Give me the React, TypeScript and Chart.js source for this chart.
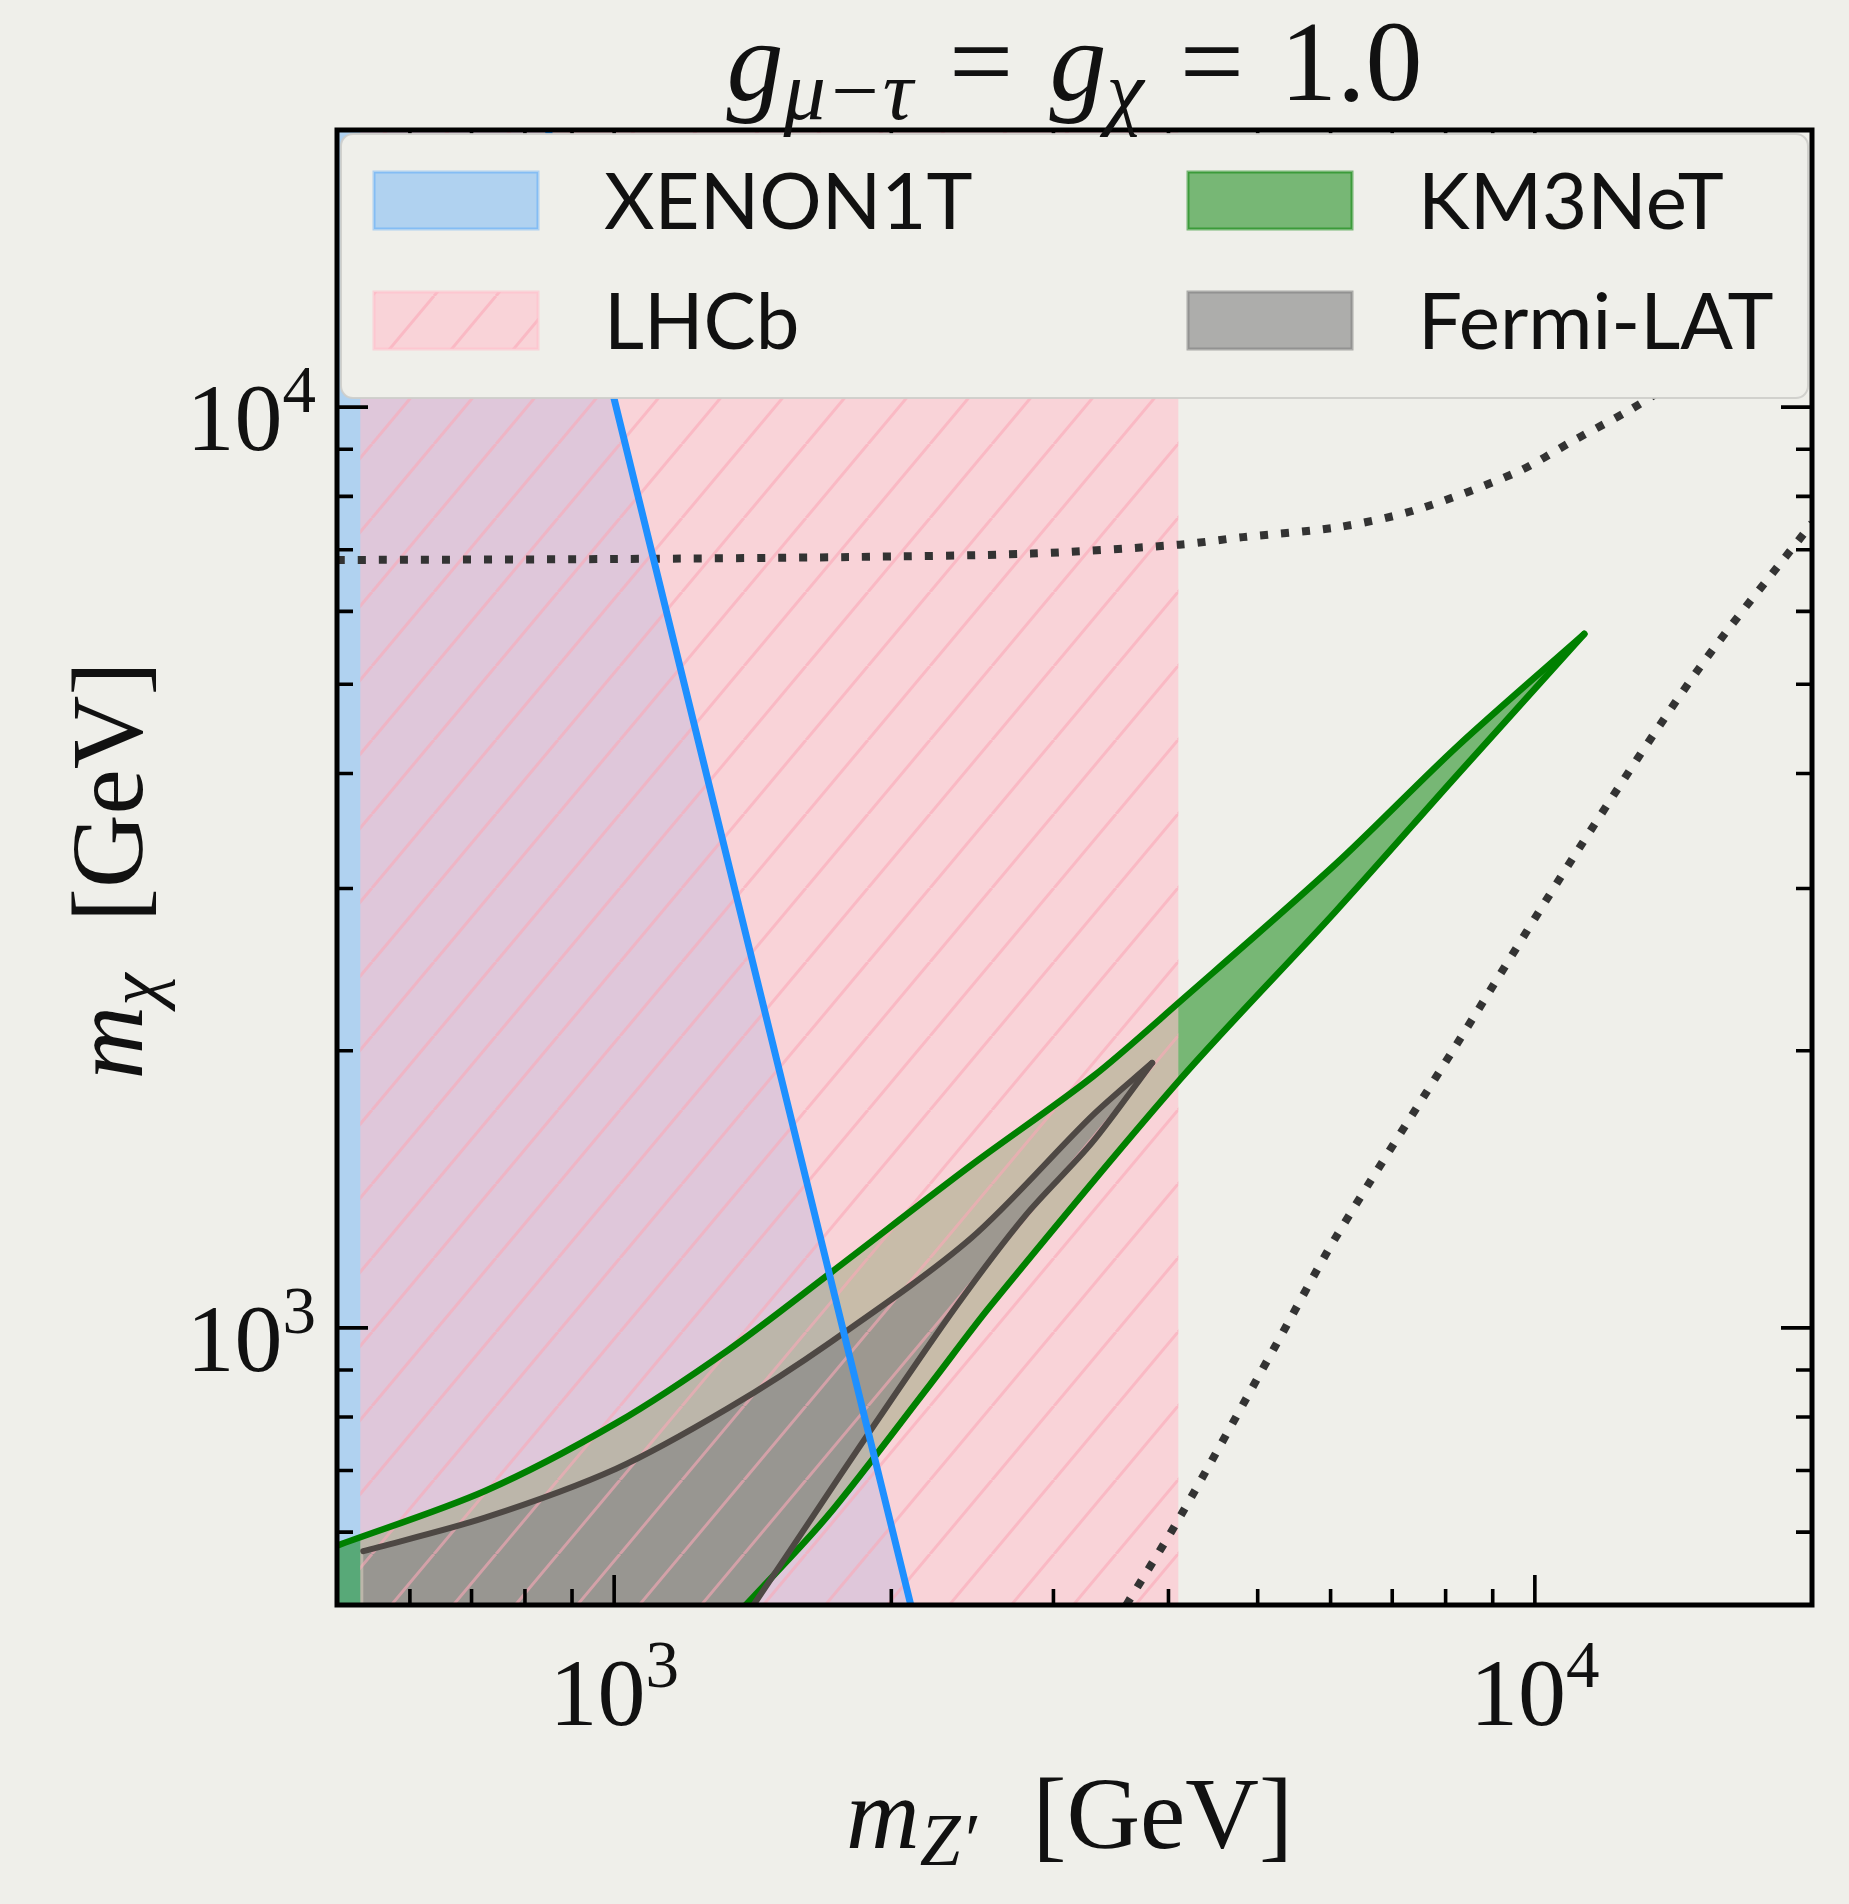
import React, { useEffect, useRef } from 'react';
import { Chart, registerables } from 'chart.js';

Chart.register(...registerables);

const CANVAS_W = 1849;
const CANVAS_H = 1904;
const BG = '#efefea';

// ---- axes ----
const X_MIN = 500;
const X_MAX = 20000;
const Y_MIN = 500;
const Y_MAX = 20000;

const xTickValues = [1000, 10000];
const xTickBase = ['10', '10'];
const xTickExp = ['3', '4'];
const yTickValues = [1000, 10000];
const yTickBase = ['10', '10'];
const yTickExp = ['3', '4'];

const legendLabels = ['XENON1T', 'LHCb', 'KM3NeT', 'Fermi-LAT'];

// ---- XENON1T boundary (excluded to the left) ----
const xenonX = [848, 1005, 2100];
const xenonY = [20000, 10000, 500];

// ---- LHCb band (m_Z' range) ----
const lhcbX = [530, 4100];

// ---- KM3NeT contour ----
const kmUpperX = [500, 724, 1005, 1330, 1721, 2441, 3307, 4116, 6070, 8227, 11315];
const kmUpperY = [580, 665, 788, 946, 1149, 1501, 1873, 2261, 3186, 4276, 5670];
const kmLowerX = [1390, 1704, 2202, 2570, 4116, 6070, 8227, 11315];
const kmLowerY = [500, 624, 867, 1060, 1860, 2830, 3980, 5670];

// ---- Fermi-LAT contour ----
const fermiUpperX = [534, 724, 1005, 1330, 1721, 2441, 3306, 3840];
const fermiUpperY = [572, 622, 703, 818, 966, 1251, 1700, 1940];
const fermiLowerX = [1417, 1635, 1891, 2360, 2798, 3306, 3840];
const fermiLowerY = [500, 619, 769, 1060, 1325, 1590, 1940];

// ---- dotted curves ----
const dot1X = [500, 1000, 1800, 2840, 4110, 4820, 6120, 7420, 9560, 11000, 12700, 14500];
const dot1Y = [6823, 6840, 6874, 6933, 7090, 7225, 7408, 7732, 8500, 9192, 9940, 10800];
const dot2X = [3600, 4116, 5215, 6070, 8227, 11143, 15097, 20000];
const dot2Y = [500, 623, 952, 1251, 2033, 3305, 5212, 7480];

// ---- colours ----
const XENON_FILL = 'rgba(30,144,255,0.3)';
const XENON_LINE = '#1e90ff';
const KM_FILL = 'rgba(0,128,0,0.5)';
const KM_LINE = '#008000';
const PINK_FACE = 'rgba(255,192,203,0.6)';
const PINK_HATCH = 'rgba(250,168,184,0.6)';
const FERMI_FILL = 'rgba(128,128,128,0.6)';
const FERMI_LINE = 'rgb(78,72,68)';
const DOT_COLOR = '#333333';

const SERIF = '"Liberation Serif", "DejaVu Serif", serif';
const SANS = 'Lato, "Noto Sans", "DejaVu Sans", sans-serif';

const pts = (xs: number[], ys: number[]) => xs.map((x, i) => ({ x, y: ys[i] }));

// "/" hatch lines only (transparent tile)
function makeHatch(ctx: CanvasRenderingContext2D): CanvasPattern | string {
  const w = 62;
  const h = 74;
  const c = document.createElement('canvas');
  c.width = w;
  c.height = h;
  const g = c.getContext('2d');
  if (!g) return 'rgba(0,0,0,0)';
  g.strokeStyle = PINK_HATCH;
  g.lineWidth = 3;
  g.beginPath();
  for (const o of [-w, 0, w]) {
    g.moveTo(o, h);
    g.lineTo(o + w, 0);
  }
  g.stroke();
  return ctx.createPattern(c, 'repeat') || 'rgba(0,0,0,0)';
}

type Seg = { t?: string; it?: boolean; s?: number; dy?: number; sp?: number };

function segFont(seg: Seg, size: number) {
  return `${seg.it ? 'italic ' : ''}${(size * (seg.s ?? 1)).toFixed(1)}px ${SERIF}`;
}

function segWidth(ctx: CanvasRenderingContext2D, seg: Seg, size: number, spExtra: number) {
  if (seg.sp !== undefined) return seg.sp * size + spExtra;
  ctx.font = segFont(seg, size);
  return ctx.measureText(seg.t || '').width;
}

function richWidth(ctx: CanvasRenderingContext2D, segs: Seg[], size: number, spExtra = 0) {
  return segs.reduce((a, s) => a + segWidth(ctx, s, size, spExtra), 0);
}

// extra spacing so that the text spans the target width
function spacingFor(ctx: CanvasRenderingContext2D, segs: Seg[], size: number, target: number) {
  const spSegs = segs.filter((s) => s.sp !== undefined);
  if (!spSegs.length) return 0;
  const w = richWidth(ctx, segs, size, 0);
  const minSp = Math.min(...spSegs.map((s) => s.sp as number));
  return Math.max(-(minSp - 0.08) * size, (target - w) / spSegs.length);
}

function drawRich(ctx: CanvasRenderingContext2D, segs: Seg[], x: number, y: number, size: number, spExtra = 0) {
  let cx = x;
  for (const seg of segs) {
    if (seg.sp !== undefined) {
      cx += seg.sp * size + spExtra;
      continue;
    }
    ctx.font = segFont(seg, size);
    ctx.fillText(seg.t || '', cx, y + (seg.dy ?? 0) * size);
    cx += ctx.measureText(seg.t || '').width;
  }
}

function roundRect(ctx: CanvasRenderingContext2D, x: number, y: number, w: number, h: number, r: number) {
  ctx.beginPath();
  ctx.moveTo(x + r, y);
  ctx.lineTo(x + w - r, y);
  ctx.arcTo(x + w, y, x + w, y + r, r);
  ctx.lineTo(x + w, y + h - r);
  ctx.arcTo(x + w, y + h, x + w - r, y + h, r);
  ctx.lineTo(x + r, y + h);
  ctx.arcTo(x, y + h, x, y + h - r, r);
  ctx.lineTo(x, y + r);
  ctx.arcTo(x, y, x + r, y, r);
  ctx.closePath();
}

function logTicks(min: number, max: number) {
  const out: { v: number; major: boolean }[] = [];
  for (let e = Math.floor(Math.log10(min)); e <= Math.ceil(Math.log10(max)); e++) {
    for (let k = 1; k <= 9; k++) {
      const v = k * Math.pow(10, e);
      if (v > min * 1.0001 && v < max * 0.9999) out.push({ v, major: k === 1 });
    }
  }
  return out;
}

function makeDecor(hatch: CanvasPattern | string) {
  return {
    id: 'decor',
    beforeDraw(chart: any) {
      const { ctx, width, height } = chart;
      ctx.save();
      ctx.fillStyle = BG;
      ctx.fillRect(0, 0, width, height);
      ctx.restore();
    },
    afterDatasetsDraw(chart: any) {
      const ctx: CanvasRenderingContext2D = chart.ctx;
      const { left, right, top, bottom } = chart.chartArea;
      const xs = chart.scales.x;
      const ys = chart.scales.y;
      ctx.save();

      // inward ticks on all four sides
      ctx.strokeStyle = '#000';
      ctx.lineWidth = 3.6;
      ctx.lineCap = 'butt';
      ctx.beginPath();
      for (const { v, major } of logTicks(xs.min, xs.max)) {
        const p = xs.getPixelForValue(v);
        const L = major ? 30 : 16;
        ctx.moveTo(p, bottom);
        ctx.lineTo(p, bottom - L);
        ctx.moveTo(p, top);
        ctx.lineTo(p, top + L);
      }
      for (const { v, major } of logTicks(ys.min, ys.max)) {
        const p = ys.getPixelForValue(v);
        const L = major ? 31 : 16;
        ctx.moveTo(left, p);
        ctx.lineTo(left + L, p);
        ctx.moveTo(right, p);
        ctx.lineTo(right - L, p);
      }
      ctx.stroke();

      // legend (inside the axes, top)
      const lx = left + 4;
      const ly = top + 4;
      const lw = right - left - 8;
      const lh = 264;
      roundRect(ctx, lx, ly, lw, lh, 12);
      ctx.fillStyle = BG;
      ctx.fill();
      ctx.strokeStyle = 'rgba(205,205,202,0.9)';
      ctx.lineWidth = 2;
      ctx.stroke();

      const colX = [left + 37, left + 851];
      const rowY = [top + 42, top + 162];
      const pw = 164;
      const ph = 57;
      const patches = [
        { fill: XENON_FILL, over: null, edge: XENON_FILL, c: 0, r: 0 },
        { fill: PINK_FACE, over: hatch, edge: PINK_FACE, c: 0, r: 1 },
        { fill: KM_FILL, over: null, edge: KM_FILL, c: 1, r: 0 },
        { fill: FERMI_FILL, over: null, edge: FERMI_FILL, c: 1, r: 1 },
      ];
      patches.forEach((p, i) => {
        const px = colX[p.c];
        const py = rowY[p.r];
        ctx.fillStyle = p.fill;
        ctx.fillRect(px, py, pw, ph);
        if (p.over) {
          ctx.fillStyle = p.over as any;
          ctx.fillRect(px, py, pw, ph);
        }
        ctx.strokeStyle = p.edge;
        ctx.lineWidth = 3;
        ctx.strokeRect(px, py, pw, ph);
        ctx.fillStyle = '#111';
        ctx.font = `78px ${SANS}`;
        ctx.textBaseline = 'alphabetic';
        ctx.textAlign = 'left';
        ctx.fillText(legendLabels[i], px + 230, py + 57);
      });

      // frame
      ctx.strokeStyle = '#000';
      ctx.lineWidth = 5;
      ctx.strokeRect(left, top, right - left, bottom - top);

      ctx.fillStyle = '#111';
      ctx.textAlign = 'left';
      ctx.textBaseline = 'alphabetic';

      // tick labels 10^n
      const baseSize = 96;
      const expSize = 67;
      const expRise = 38;
      const labelW = (b: string, e: string) => {
        ctx.font = `${baseSize}px ${SERIF}`;
        const wb = ctx.measureText(b).width;
        ctx.font = `${expSize}px ${SERIF}`;
        return { wb, we: ctx.measureText(e).width };
      };
      xTickValues.forEach((v, i) => {
        const px = xs.getPixelForValue(v);
        const { wb, we } = labelW(xTickBase[i], xTickExp[i]);
        const x0 = px - (wb + we) / 2;
        const yb = bottom + 120;
        ctx.font = `${baseSize}px ${SERIF}`;
        ctx.fillText(xTickBase[i], x0, yb);
        ctx.font = `${expSize}px ${SERIF}`;
        ctx.fillText(xTickExp[i], x0 + wb, yb - expRise);
      });
      yTickValues.forEach((v, i) => {
        const py = ys.getPixelForValue(v);
        const { wb, we } = labelW(yTickBase[i], yTickExp[i]);
        const x0 = left - 21 - (wb + we);
        const yb = py + 43;
        ctx.font = `${baseSize}px ${SERIF}`;
        ctx.fillText(yTickBase[i], x0, yb);
        ctx.font = `${expSize}px ${SERIF}`;
        ctx.fillText(yTickExp[i], x0 + wb, yb - expRise);
      });

      // title  g_{mu-tau} = g_chi = 1.0
      const titleSegs: Seg[] = [
        { t: 'g', it: true },
        { t: 'μ−τ', it: true, s: 0.74, dy: 0.17 },
        { sp: 0.28 },
        { t: '=' },
        { sp: 0.28 },
        { t: 'g', it: true },
        { t: 'χ', it: true, s: 0.74, dy: 0.17 },
        { sp: 0.28 },
        { t: '=' },
        { sp: 0.28 },
        { t: '1.0' },
      ];
      const tSize = 114;
      const tTarget = 696;
      const tExtra = spacingFor(ctx, titleSegs, tSize, tTarget);
      const tW = richWidth(ctx, titleSegs, tSize, tExtra);
      drawRich(ctx, titleSegs, (left + right) / 2 - tW / 2, top - 30, tSize, tExtra);

      // x label  m_{Z'} [GeV]
      const axSize = 102;
      const xSegs: Seg[] = [
        { t: 'm', it: true },
        { t: 'Z′', it: true, s: 0.72, dy: 0.17 },
        { sp: 0.32 },
        { t: '[GeV]' },
      ];
      const xExtra = spacingFor(ctx, xSegs, axSize, 447);
      const xW = richWidth(ctx, xSegs, axSize, xExtra);
      drawRich(ctx, xSegs, (left + right) / 2 - 5 - xW / 2, bottom + 243, axSize, xExtra);

      // y label  m_chi [GeV]
      const ySegs: Seg[] = [
        { t: 'm', it: true },
        { t: 'χ', it: true, s: 0.72, dy: 0.17 },
        { sp: 0.32 },
        { t: '[GeV]' },
      ];
      const yExtra = spacingFor(ctx, ySegs, axSize, 418);
      const yW = richWidth(ctx, ySegs, axSize, yExtra);
      ctx.save();
      ctx.translate(left - 195, (top + bottom) / 2 + 3 + yW / 2);
      ctx.rotate(-Math.PI / 2);
      drawRich(ctx, ySegs, 0, 0, axSize, yExtra);
      ctx.restore();

      ctx.restore();
    },
  };
}

export default function App() {
  const ref = useRef<HTMLCanvasElement>(null);

  useEffect(() => {
    const canvas = ref.current;
    if (!canvas) return;
    const ctx = canvas.getContext('2d');
    if (!ctx) return;
    const hatch = makeHatch(ctx);

    const below = Y_MIN * 0.9;
    const xenonLine = pts(xenonX, xenonY);
    const xenonPoly = [{ x: X_MIN, y: Y_MAX }, ...xenonLine, { x: X_MIN, y: Y_MIN }];
    const lhcbPoly = [
      { x: lhcbX[0], y: Y_MIN },
      { x: lhcbX[0], y: Y_MAX },
      { x: lhcbX[1], y: Y_MAX },
      { x: lhcbX[1], y: Y_MIN },
    ];
    const kmUpper = pts(kmUpperX, kmUpperY);
    const kmLower = pts(kmLowerX, kmLowerY);
    // closed outline; end points are repeated so that its curve matches the edge lines
    const kmPoly = [
      { x: X_MIN * 0.9, y: below },
      { x: X_MIN * 0.9, y: kmUpperY[0] },
      kmUpper[0],
      ...kmUpper,
      ...kmLower.slice().reverse(),
      kmLower[0],
      { x: kmLowerX[0], y: below },
    ];
    const fermiUpper = pts(fermiUpperX, fermiUpperY);
    const fermiLower = pts(fermiLowerX, fermiLowerY);
    const fermiPoly = [
      { x: fermiUpperX[0], y: below },
      fermiUpper[0],
      ...fermiUpper,
      ...fermiLower.slice().reverse(),
      fermiLower[0],
      { x: fermiLowerX[0], y: below },
    ];

    const TENSION = 0.3;
    const base = { showLine: true, pointRadius: 0, pointHoverRadius: 0, clip: 0 };
    const fillDs = (label: string, data: any[], color: any, tension: number) => ({
      ...base,
      label,
      data,
      tension,
      fill: 'shape',
      backgroundColor: color,
      borderColor: 'rgba(0,0,0,0)',
      borderWidth: 0,
    });
    const lineDs = (label: string, data: any[], color: string, width: number, tension: number, dash: number[] = []) => ({
      ...base,
      label,
      data,
      tension,
      fill: false,
      borderColor: color,
      borderWidth: width,
      borderDash: dash,
      borderCapStyle: dash.length ? 'butt' : 'round',
      borderJoinStyle: 'round',
    });

    // bottom -> top
    const layers: any[] = [
      fillDs('XENON1T', xenonPoly, XENON_FILL, 0),
      fillDs('KM3NeT', kmPoly, KM_FILL, TENSION),
      fillDs('LHCb', lhcbPoly, PINK_FACE, 0),
      fillDs('Fermi-LAT', fermiPoly, FERMI_FILL, TENSION),
      fillDs('LHCb hatch', lhcbPoly, hatch, 0),
      lineDs('dotted-1', pts(dot1X, dot1Y), DOT_COLOR, 8, TENSION, [8, 13]),
      lineDs('dotted-2', pts(dot2X, dot2Y), DOT_COLOR, 8, TENSION, [8, 13]),
      lineDs('KM3NeT upper', kmUpper, KM_LINE, 6.5, TENSION),
      lineDs('KM3NeT lower', kmLower, KM_LINE, 6.5, TENSION),
      lineDs('Fermi upper', fermiUpper, FERMI_LINE, 6, TENSION),
      lineDs('Fermi lower', fermiLower, FERMI_LINE, 6, TENSION),
      lineDs('XENON1T edge', xenonLine, XENON_LINE, 7, 0),
    ];
    const datasets = layers.map((d, i) => ({ ...d, order: layers.length - i }));

    const chart = new Chart(ctx, {
      type: 'line',
      data: { datasets },
      options: {
        responsive: false,
        animation: false,
        devicePixelRatio: 1,
        events: [],
        elements: { line: { capBezierPoints: false } },
        layout: { padding: { left: 337, right: CANVAS_W - 1812, top: 130, bottom: CANVAS_H - 1605 } },
        scales: {
          x: { type: 'logarithmic', min: X_MIN, max: X_MAX, display: false },
          y: { type: 'logarithmic', min: Y_MIN, max: Y_MAX, display: false },
        },
        plugins: {
          legend: { display: false },
          tooltip: { enabled: false },
          title: { display: false },
        },
      } as any,
      plugins: [makeDecor(hatch) as any],
    });
    return () => chart.destroy();
  }, []);

  return (
    <div style={{ position: 'fixed', left: 0, top: 0, width: CANVAS_W, height: CANVAS_H, background: BG }}>
      <canvas
        ref={ref}
        width={CANVAS_W}
        height={CANVAS_H}
        style={{ display: 'block', width: CANVAS_W, height: CANVAS_H }}
      />
    </div>
  );
}
